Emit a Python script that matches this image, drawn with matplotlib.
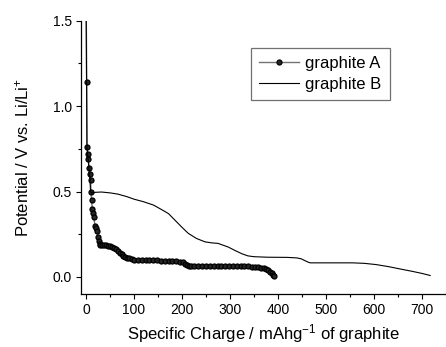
import numpy as np
import matplotlib
matplotlib.use('Agg')
import matplotlib.pyplot as plt

plt.rcParams['font.family'] = ['Liberation Sans', 'DejaVu Sans']
plt.rcParams['mathtext.fontset'] = 'custom'
plt.rcParams['mathtext.rm'] = 'Liberation Sans'
plt.rcParams['mathtext.it'] = 'Liberation Sans:italic'

# graphite A
a_x = [0.3, 1.5, 2, 3.5, 5, 6.5, 8, 9.6, 10.3, 11.6, 13, 14.7, 16.4, 18.5, 20.5, 23, 25, 26.7,
       28.5, 30, 34, 38, 42, 46, 50, 54, 58, 62, 66, 70, 74, 78, 82, 86, 90, 95, 100, 108, 116,
       124, 132, 140, 148, 156, 164, 172, 180, 188, 196, 202, 207, 211, 214, 218, 226, 234, 242,
       250, 258, 266, 274, 282, 290, 298, 306, 314, 322, 330, 338, 346, 352, 358, 364, 370, 376,
       380, 384, 387, 389, 391]
a_y = [1.60, 1.14, 0.76, 0.72, 0.69, 0.64, 0.60, 0.565, 0.50, 0.452, 0.40, 0.375, 0.35, 0.30,
       0.285, 0.267, 0.235, 0.208, 0.195, 0.189, 0.186, 0.185, 0.184, 0.183, 0.181, 0.177, 0.171,
       0.162, 0.152, 0.142, 0.133, 0.125, 0.118, 0.113, 0.108, 0.104, 0.101, 0.100, 0.099, 0.099,
       0.098, 0.097, 0.096, 0.095, 0.094, 0.093, 0.092, 0.090, 0.088, 0.085, 0.078, 0.070, 0.066,
       0.065, 0.065, 0.065, 0.065, 0.065, 0.064, 0.064, 0.064, 0.064, 0.064, 0.063, 0.063, 0.063,
       0.062, 0.062, 0.061, 0.060, 0.059, 0.057, 0.054, 0.050, 0.044, 0.038, 0.030, 0.020, 0.011,
       0.003]

# graphite B
b_x = [0.3, 1, 2, 4, 6, 8, 9.6, 12, 18.5, 32, 50, 66, 85, 100, 120, 141, 160, 172, 186, 200,
       213, 230, 248, 262, 275, 286, 296, 310, 325, 337, 350, 378, 419, 439, 448, 456, 462, 467,
       520, 556, 580, 604, 630, 651, 680, 700, 717]
b_y = [1.60, 1.20, 0.76, 0.70, 0.64, 0.57, 0.50, 0.49, 0.495, 0.497, 0.492, 0.485, 0.47, 0.455,
       0.44, 0.42, 0.39, 0.37, 0.33, 0.29, 0.255, 0.225, 0.205, 0.199, 0.196, 0.185, 0.175, 0.155,
       0.135, 0.123, 0.118, 0.115, 0.114, 0.111, 0.106, 0.095, 0.087, 0.082, 0.082, 0.082, 0.079,
       0.072, 0.060, 0.048, 0.032, 0.020, 0.008]

fig = plt.figure(figsize=(4.46, 3.47), dpi=100)
ax = fig.add_axes([0.181, 0.153, 0.819, 0.787])

ax.plot(a_x, a_y, color='0.45', lw=1, marker='o', ms=3.6, mec='k', mfc='0.15', mew=0.9,
        label='graphite A')
ax.plot(b_x, b_y, color='k', lw=0.8, label='graphite B')

ax.set_xlim(-11, 739)
ax.set_ylim(-0.1, 1.5)
ax.set_xticks(np.arange(0, 701, 100))
ax.set_xticks(np.arange(50, 751, 100), minor=True)
ax.set_yticks([0.0, 0.5, 1.0, 1.5])
ax.set_yticks([0.25, 0.75, 1.25], minor=True)
ax.set_yticklabels(['0.0', '0.5', '1.0', '1.5'])

for s in ['top', 'right']:
    ax.spines[s].set_visible(False)
for s in ['left', 'bottom']:
    ax.spines[s].set_linewidth(0.9)
ax.tick_params(which='major', direction='out', length=3.5, width=0.8, labelsize=10, pad=3)
ax.tick_params(which='minor', direction='out', length=2, width=0.8)

ax.set_xlabel('Specific Charge / mAhg$^{-1}$ of graphite', fontsize=12, labelpad=4)
ax.set_ylabel('Potential / V vs. Li/Li$^{+}$', fontsize=12, labelpad=15)

leg = ax.legend(loc='upper left', bbox_to_anchor=(0.563, 0.8625), bbox_transform=fig.transFigure,
                fontsize=12, fancybox=False, frameon=True, handlelength=2.4, borderaxespad=0,
                borderpad=0.5, labelspacing=0.35, handletextpad=0.35)
leg.get_frame().set_edgecolor('0.3')
leg.get_frame().set_linewidth(0.9)

fig.savefig('out.png', dpi=100)
